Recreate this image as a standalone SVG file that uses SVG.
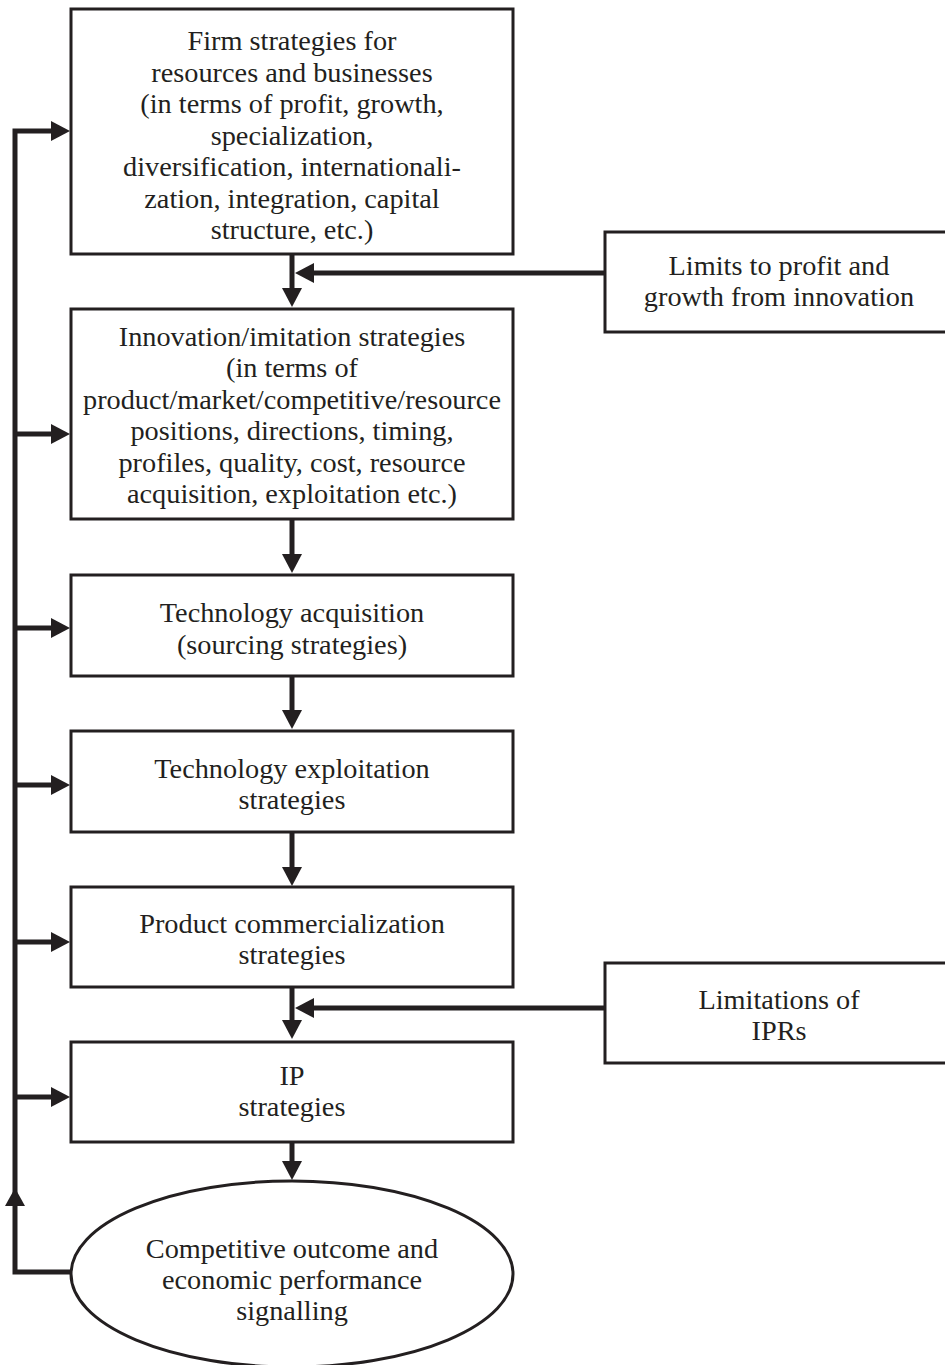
<svg xmlns="http://www.w3.org/2000/svg" width="945" height="1365" viewBox="0 0 945 1365">
<style>
.box{fill:#fff;stroke:#231f20;stroke-width:3}
.ln{fill:none;stroke:#231f20;stroke-width:5}
.ah{fill:#231f20}
text{font-family:"Liberation Serif","Times New Roman",serif;font-size:28.3px;fill:#231f20;text-anchor:middle}
</style>
<defs>
<marker id="arr" viewBox="0 0 19 20" refX="0" refY="10" markerWidth="19" markerHeight="20" markerUnits="userSpaceOnUse" orient="auto">
<path class="ah" d="M0,0 L19,10 L0,20 Z"/>
</marker>
</defs>
<rect width="945" height="1365" fill="#fff"/>
<g id="connectors">
<path class="ln" d="M71,1272 H15 V131 H51" marker-end="url(#arr)"/>
<polygon class="ah" points="15,1188 25,1206 5,1206"/>
<line class="ln" x1="15" y1="434" x2="51" y2="434" marker-end="url(#arr)"/>
<line class="ln" x1="15" y1="628" x2="51" y2="628" marker-end="url(#arr)"/>
<line class="ln" x1="15" y1="785" x2="51" y2="785" marker-end="url(#arr)"/>
<line class="ln" x1="15" y1="942" x2="51" y2="942" marker-end="url(#arr)"/>
<line class="ln" x1="15" y1="1097" x2="51" y2="1097" marker-end="url(#arr)"/>
<line class="ln" x1="292" y1="255" x2="292" y2="288" marker-end="url(#arr)"/>
<line class="ln" x1="292" y1="520" x2="292" y2="554" marker-end="url(#arr)"/>
<line class="ln" x1="292" y1="677" x2="292" y2="710" marker-end="url(#arr)"/>
<line class="ln" x1="292" y1="833" x2="292" y2="867" marker-end="url(#arr)"/>
<line class="ln" x1="292" y1="988" x2="292" y2="1020" marker-end="url(#arr)"/>
<line class="ln" x1="292" y1="1143" x2="292" y2="1161" marker-end="url(#arr)"/>
<line class="ln" x1="605" y1="273" x2="314" y2="273" marker-end="url(#arr)"/>
<line class="ln" x1="605" y1="1008" x2="314" y2="1008" marker-end="url(#arr)"/>
</g>
<g id="n1">
<rect class="box" x="71" y="9" width="442" height="245"/>
<text x="292" y="50">Firm strategies for</text>
<text x="292" y="81.5">resources and businesses</text>
<text x="292" y="113">(in terms of profit, growth,</text>
<text x="292" y="144.5">specialization,</text>
<text x="292" y="176">diversification, internationali-</text>
<text x="292" y="207.5">zation, integration, capital</text>
<text x="292" y="239">structure, etc.)</text>
</g>
<g id="n2">
<rect class="box" x="71" y="309" width="442" height="210"/>
<text x="292" y="346">Innovation/imitation strategies</text>
<text x="292" y="377.4">(in terms of</text>
<text x="292" y="408.8">product/market/competitive/resource</text>
<text x="292" y="440.2">positions, directions, timing,</text>
<text x="292" y="471.6">profiles, quality, cost, resource</text>
<text x="292" y="503">acquisition, exploitation etc.)</text>
</g>
<g id="n3">
<rect class="box" x="71" y="575" width="442" height="101"/>
<text x="292" y="622">Technology acquisition</text>
<text x="292" y="654">(sourcing strategies)</text>
</g>
<g id="n4">
<rect class="box" x="71" y="731" width="442" height="101"/>
<text x="292" y="778">Technology exploitation</text>
<text x="292" y="809">strategies</text>
</g>
<g id="n5">
<rect class="box" x="71" y="887" width="442" height="100"/>
<text x="292" y="933">Product commercialization</text>
<text x="292" y="964">strategies</text>
</g>
<g id="n6">
<rect class="box" x="71" y="1042" width="442" height="100"/>
<text x="292" y="1085">IP</text>
<text x="292" y="1116">strategies</text>
</g>
<g id="n7">
<ellipse class="box" cx="292" cy="1274" rx="221" ry="93"/>
<text x="292" y="1258">Competitive outcome and</text>
<text x="292" y="1289">economic performance</text>
<text x="292" y="1320">signalling</text>
</g>
<g id="r1">
<rect class="box" x="605" y="232" width="348" height="100"/>
<text x="779" y="275">Limits to profit and</text>
<text x="779" y="306">growth from innovation</text>
</g>
<g id="r2">
<rect class="box" x="605" y="963" width="348" height="100"/>
<text x="779" y="1009">Limitations of</text>
<text x="779" y="1040">IPRs</text>
</g>
</svg>
